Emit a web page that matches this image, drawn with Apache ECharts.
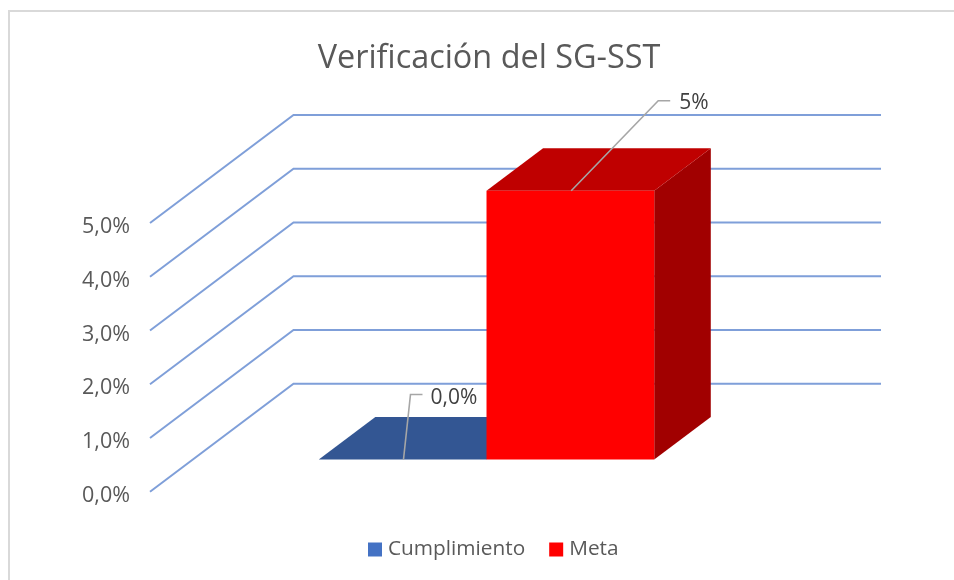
<!DOCTYPE html>
<html>
<head>
<meta charset="utf-8">
<style>html,body{margin:0;padding:0;background:#fff}#c{width:954px;height:580px}</style>
<script src="https://cdn.jsdelivr.net/npm/echarts@6/dist/echarts.min.js"></script>
</head>
<body>
<div id="c"></div>
<script>
var titleText = 'Verificación del SG-SST';
var categories = ['Verificación del SG-SST'];
var seriesNames = ['Cumplimiento', 'Meta'];
var cumplimientoValues = [0];
var metaValues = [5];
var cumplimientoLabels = ['0,0%'];
var metaLabels = ['5%'];
var yTicks = [0, 1, 2, 3, 4, 5];

var FONT = '"Open Sans", sans-serif';
var TEXT = '#595959';
var DEPTH_X = 143.5, DEPTH_Y = 108;
var BAR_FRONT = 0.298, BAR_BACK = 0.692;
var BAR_WIDTH = 0.2855;

function shade(rgb, k) {
  return 'rgb(' + rgb.map(function (c) { return Math.round(c * k); }).join(',') + ')';
}

function gridWall(params, api) {
  var p = api.coord([0, api.value(0)]);
  var cs = params.coordSys;
  var x0 = cs.x, y = p[1];
  return {
    type: 'polyline',
    shape: { points: [[x0, y], [x0 + DEPTH_X, y - DEPTH_Y], [cs.x + cs.width + DEPTH_X, y - DEPTH_Y]] },
    style: { stroke: '#7f9fd9', lineWidth: 2, fill: null },
    silent: true
  };
}

function makeBar(rgb, slot, labels, leader) {
  return function (params, api) {
    var base = api.coord([api.value(0), 0]);
    var top = api.coord([api.value(0), api.value(1)]);
    var w = api.size([1, 0])[0] * BAR_WIDTH;
    var fx = DEPTH_X * BAR_FRONT, fy = DEPTH_Y * BAR_FRONT;
    var dx = DEPTH_X * (BAR_BACK - BAR_FRONT), dy = DEPTH_Y * (BAR_BACK - BAR_FRONT);
    var L = base[0] + slot * w + fx, R = L + w;
    var B = base[1] - fy, T = top[1] - fy;
    var mid = L + w * leader.at;
    var a = [mid, leader.onFloor ? B : T];
    var b = [a[0] + leader.dx, a[1] + leader.dy];
    var c = [b[0] + 12, b[1]];
    return {
      type: 'group',
      children: [
        { type: 'polygon', shape: { points: [[R, B], [R + dx, B - dy], [R + dx, T - dy], [R, T]] },
          style: { fill: shade(rgb, 0.63) } },
        { type: 'polygon', shape: { points: [[L, T], [R, T], [R + dx, T - dy], [L + dx, T - dy]] },
          style: { fill: shade(rgb, 0.75) } },
        { type: 'rect', shape: { x: L, y: T, width: w, height: B - T },
          style: { fill: shade(rgb, 1) } },
        { type: 'polyline', shape: { points: [a, b, c] },
          style: { stroke: '#a6a6a6', lineWidth: 1.6, fill: null } },
        { type: 'text', x: c[0] + leader.textDx, y: c[1] + leader.textDy,
          style: { text: labels[params.dataIndex], font: '21px ' + FONT, fill: '#404040',
                   textAlign: 'left', textVerticalAlign: 'middle' } }
      ]
    };
  };
}

var chart = echarts.init(document.getElementById('c'), null, { renderer: 'canvas' });
chart.setOption({
  animation: false,
  backgroundColor: '#fff',
  title: {
    text: titleText, left: 484, top: 38, textAlign: 'center',
    textStyle: { fontFamily: FONT, fontSize: 32.4, fontWeight: 'normal', color: TEXT }
  },
  legend: {
    data: seriesNames, left: 363, top: 534, itemWidth: 14, itemHeight: 14, itemGap: 24,
    icon: 'rect', selectedMode: false,
    textStyle: { fontFamily: FONT, fontSize: 20.8, color: TEXT, padding: [0, 0, 0, 1] }
  },
  grid: { left: 150, right: 216.5, top: 223, bottom: 88.3 },
  xAxis: {
    type: 'category', data: categories,
    axisLine: { show: false }, axisTick: { show: false }, axisLabel: { show: false }, splitLine: { show: false }
  },
  yAxis: {
    type: 'value', min: 0, max: 5, interval: 1,
    axisLine: { show: false }, axisTick: { show: false }, splitLine: { show: false },
    axisLabel: {
      margin: 20, fontFamily: FONT, fontSize: 21.5, color: TEXT, verticalAlign: 'top', lineHeight: 8,
      formatter: function (v) { return v.toFixed(1).replace('.', ',') + '%'; }
    }
  },
  graphic: [
    { type: 'polyline', silent: true, z: -1,
      shape: { points: [[9, 580], [9, 11], [954, 11]] },
      style: { stroke: '#d9d9d9', lineWidth: 2, fill: null } }
  ],
  series: [
    { type: 'custom', name: 'wall', z: 1, silent: true, renderItem: gridWall,
      encode: { y: 0 }, data: yTicks.map(function (t) { return [t]; }) },
    { type: 'custom', name: seriesNames[0], z: 2, silent: true,
      itemStyle: { color: '#4472c4' },
      renderItem: makeBar([68, 114, 196], -1, cumplimientoLabels,
        { at: 0.505, onFloor: true, dx: 7, dy: -65, textDx: 8, textDy: 3 }),
      encode: { x: 0, y: 1 },
      data: cumplimientoValues.map(function (v, i) { return [i, v]; }) },
    { type: 'custom', name: seriesNames[1], z: 3, silent: true,
      itemStyle: { color: '#ff0000' },
      renderItem: makeBar([255, 0, 0], 0, metaLabels,
        { at: 0.505, onFloor: false, dx: 87, dy: -90, textDx: 9, textDy: 2 }),
      encode: { x: 0, y: 1 },
      data: metaValues.map(function (v, i) { return [i, v]; }) }
  ]
});
</script>
</body>
</html>
